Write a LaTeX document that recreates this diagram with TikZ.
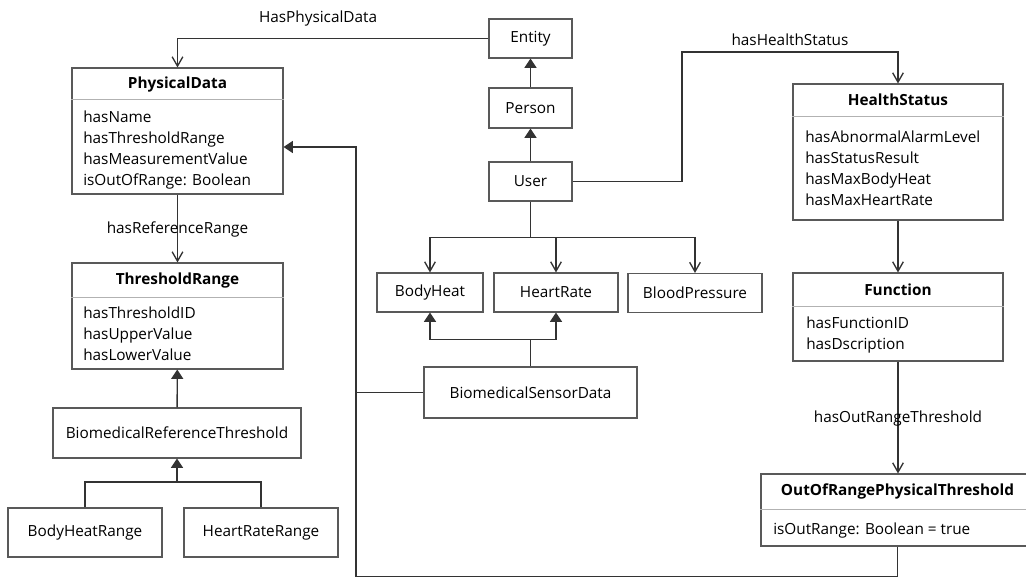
\documentclass[tikz,border=0pt]{standalone}
\usepackage{fontspec}
\setmainfont{Open Sans}
\usetikzlibrary{arrows.meta, positioning, calc}

\begin{document}
\begin{tikzpicture}[x=0.75pt, y=-0.75pt, font=\fontsize{11.5}{15.75}\selectfont]
    \tikzstyle{box} = [rectangle, draw=black!65, fill=white, line width=0.8pt, inner sep=0pt, minimum height=29.25pt]
    \tikzstyle{title} = [font=\fontsize{11.5}{15.75}\selectfont\bfseries, inner sep=0pt]
    \tikzstyle{attrs} = [align=left, anchor=north west, inner sep=0pt]
    \tikzstyle{sep} = [draw=black!30, line width=1pt]
    \tikzstyle{line} = [draw=black!80, line width=1pt]
    \tikzstyle{arrow} = [line, -{Straight Barb[length=7pt, width=8pt]}]
    \tikzstyle{inherit} = [line, -{Triangle[length=7pt, width=9pt]}]
    \tikzstyle{lbl} = [inner sep=0pt]

    \useasboundingbox[fill=white] (0,0) rectangle (1026,579);

    \node (entity) [box, minimum width=62.25pt] at (530.5,38.5) {Entity};
    \node (person) [box, minimum width=62.25pt, minimum height=30pt] at (530.5,108) {Person};
    \node (user) [box, minimum width=62.25pt] at (530.5,181.5) {User};
    \node (bodyheat) [box, minimum width=79.5pt] at (430,292.5) {BodyHeat};
    \node (heartrate) [box, minimum width=93pt] at (556,292.5) {HeartRate};
    \node (bloodpressure) [box, minimum width=100.5pt] at (695,293) {BloodPressure};
    \node (sensor) [box, minimum width=159.75pt, minimum height=38.25pt] at (530.5,392.5) {BiomedicalSensorData};
    \node (refthreshold) [box, minimum width=186pt, minimum height=37.5pt] at (177,433) {BiomedicalReferenceThreshold};
    \node (bodyrange) [box, minimum width=115.5pt, minimum height=36.75pt] at (85,532.5) {BodyHeatRange};
    \node (heartrange) [box, minimum width=115.5pt, minimum height=36.75pt] at (261,532.5) {HeartRateRange};

    % class boxes: frame, title, separator, attributes
    \node (physdata) [box, minimum width=158.25pt, minimum height=94.5pt] at (177.5,131) {};
    \node (physdata-title) [title] at (177.5,85) {PhysicalData};
    \draw[sep] (physdata.west |- 0,99.5) -- (physdata.east |- 0,99.5);
    \node (physdata-attrs) [attrs] at (83,110.5) {hasName\\hasThresholdRange\\hasMeasurementValue\\isOutOfRange: Boolean};

    \node (threshold) [box, minimum width=158.25pt, minimum height=79.5pt] at (177.5,316) {};
    \node (threshold-title) [title] at (177.5,280.7) {ThresholdRange};
    \draw[sep] (threshold.west |- 0,297.7) -- (threshold.east |- 0,297.7);
    \node (threshold-attrs) [attrs] at (83,307) {hasThresholdID\\hasUpperValue\\hasLowerValue};

    \node (health) [box, minimum width=157.5pt, minimum height=102pt] at (898,152) {};
    \node (health-title) [title] at (898,100) {HealthStatus};
    \draw[sep] (health.west |- 0,116.7) -- (health.east |- 0,116.7);
    \node (health-attrs) [attrs] at (805,131) {hasAbnormalAlarmLevel\\hasStatusResult\\hasMaxBodyHeat\\hasMaxHeartRate};

    \node (function) [box, minimum width=157.5pt, minimum height=66pt] at (898,317) {};
    \node (function-title) [title] at (898,290) {Function};
    \draw[sep] (function.west |- 0,306.7) -- (function.east |- 0,306.7);
    \node (function-attrs) [attrs] at (806,317) {hasFunctionID\\hasDscription};

    \node (outrange) [box, minimum width=204.75pt, minimum height=54pt] at (897.5,510) {};
    \node (outrange-title) [title] at (897.5,491.7) {OutOfRangePhysicalThreshold};
    \draw[sep] (outrange.west |- 0,509.3) -- (outrange.east |- 0,509.3);
    \node (outrange-attrs) [attrs] at (773,523) {isOutRange: Boolean = true};

    \coordinate (split) at ($(user.south)+(0,36)$);
    \coordinate (bus) at (356,147);
    \coordinate (rangejoin) at (177,482);

    \draw [inherit] (person) -- (entity);
    \draw [inherit] (user) -- (person);
    \draw [arrow] (entity.west) -| node[lbl, pos=0.274, above=9pt] {HasPhysicalData} (physdata.north);
    \draw [arrow] (user.east) -| (682,52) -- node[lbl, above=4pt] {hasHealthStatus} (health.north |- 0,52) -- (health.north);
    \draw [line] (user.south) -- (split);
    \draw [arrow] (split) -| (bodyheat.north);
    \draw [arrow] (split) -| (heartrate.north);
    \draw [arrow] (split) -| (bloodpressure.north);
    \draw [inherit] (sensor.north) -- ++(0,-27) -| (bodyheat.south);
    \draw [inherit] (sensor.north) -- ++(0,-27) -| (heartrate.south);
    \draw [inherit] (sensor.west) -| (bus) -- (physdata.east |- bus);
    \draw [line] (outrange.south) -- ++(0,30) -| (bus);
    \draw [arrow] (health) -- (function);
    \draw [arrow] (function.south) -- node[lbl, pos=0.513] {hasOutRangeThreshold} (function.south |- outrange.north);
    \draw [arrow] (physdata) -- node[lbl, pos=0.507] {hasReferenceRange} (threshold);
    \draw [inherit] (refthreshold) -- (threshold);
    \draw [inherit] (bodyrange.north) |- (rangejoin) -- (refthreshold.south);
    \draw [line] (heartrange.north) |- (rangejoin);
\end{tikzpicture}
\end{document}
